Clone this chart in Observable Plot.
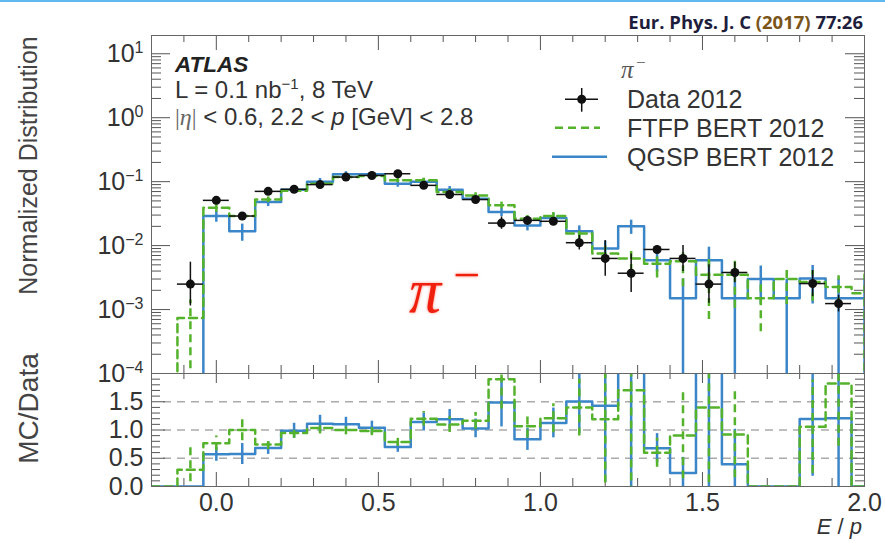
<!DOCTYPE html>
<html><head><meta charset="utf-8">
<script src="https://cdn.jsdelivr.net/npm/d3@7"></script>
<script src="https://cdn.jsdelivr.net/npm/@observablehq/plot@0.6"></script>
<style>
body{margin:0;background:#fff;}
#wrap{position:relative;width:885px;height:543px;overflow:hidden;font-family:"Liberation Sans",Arial,sans-serif;}
#topline{position:absolute;left:0;top:0;width:885px;height:2px;background:#62b8f0;}
#upper,#lower,#over{position:absolute;left:0;}
#upper{top:0;} #lower{top:373px;} #over{top:0;pointer-events:none;}
svg{overflow:visible;}
</style></head><body>
<div id="wrap">
<div id="topline"></div>
<div id="upper"></div>
<div id="lower"></div>
<svg id="over" width="885" height="543" font-family="Liberation Sans, Arial, sans-serif">
  <text x="863" y="29" text-anchor="end" font-family="Open Sans, sans-serif" font-weight="bold" font-size="18.5" fill="#1e1e3c">Eur. Phys. J. C <tspan fill="#7a5418">(2017)</tspan> 77:26</text>
  <text transform="translate(37,165.5) rotate(-90)" text-anchor="middle" font-size="25" fill="#444">Normalized Distribution</text>
  <text transform="translate(38,408.5) rotate(-90)" text-anchor="middle" font-size="28" fill="#444">MC/Data</text>
  <text x="175" y="71.5" font-size="22.5" font-weight="bold" font-style="italic" fill="#222">ATLAS</text>
  <text x="175" y="98" font-size="24" fill="#333">L = 0.1 nb<tspan dy="-9" font-size="15">−1</tspan><tspan dy="9">, 8 TeV</tspan></text>
  <text x="175" y="125" font-size="24" fill="#333"><tspan font-family="Liberation Serif, serif" fill="#666">|</tspan><tspan font-family="Liberation Serif, serif" font-style="italic" fill="#666">η</tspan><tspan font-family="Liberation Serif, serif" fill="#666">|</tspan> &lt; 0.6, 2.2 &lt; <tspan font-style="italic">p</tspan> [GeV] &lt; 2.8</text>
  <text x="621" y="78" font-family="Liberation Serif, serif" font-style="italic" font-size="25" fill="#555">π</text>
  <text x="636" y="68" font-family="Liberation Serif, serif" font-size="17" fill="#555">−</text>
  <line x1="565" x2="598" y1="99.3" y2="99.3" stroke="#111" stroke-width="1.5"/>
  <line x1="581.7" x2="581.7" y1="88" y2="111.7" stroke="#111" stroke-width="1.5"/>
  <circle cx="581.7" cy="99.3" r="4.5" fill="#111"/>
  <text x="627" y="108" font-size="25" fill="#333">Data 2012</text>
  <line x1="555" x2="600" y1="127.7" y2="127.7" stroke="#54b22b" stroke-width="2.5" stroke-dasharray="8,5"/>
  <text x="627" y="137" font-size="25" fill="#333">FTFP BERT 2012</text>
  <line x1="552" x2="607" y1="156.7" y2="156.7" stroke="#3b86c9" stroke-width="2.5"/>
  <text x="627" y="166" font-size="25" fill="#333">QGSP BERT 2012</text>
  <g style="filter: drop-shadow(0 0 1.5px rgba(255,70,40,0.6))">
    <text x="409" y="312" font-family="Liberation Serif, serif" font-style="italic" font-size="64" fill="#f0200f">π</text>
    <text x="453" y="291" font-family="Liberation Serif, serif" font-size="48" fill="#f0200f">−</text>
  </g>
  <text x="862" y="534" text-anchor="end" font-size="22" fill="#333"><tspan font-style="italic">E</tspan> / <tspan font-style="italic">p</tspan></text>
</svg>
</div>
<script>
// ---------- data ----------
const binCenters = [-0.16,-0.08,0.00,0.08,0.16,0.24,0.32,0.40,0.48,0.56,0.64,0.72,0.80,0.88,0.96,1.04,1.12,1.20,1.28,1.36,1.44,1.52,1.60,1.68,1.76,1.84,1.92,2.00];
const binWidth = 0.08;
const dataValues   = [0, 0.0025, 0.051, 0.029, 0.0705, 0.076, 0.090, 0.118, 0.125, 0.133, 0.0875, 0.063, 0.0525, 0.0225, 0.0248, 0.024, 0.0111, 0.0063, 0.0037, 0.0087, 0.0063, 0.0025, 0.0038, 0, 0, 0.00255, 0.00124, 0];
const dataErrFactor= [1, 2.2, 1.08, 1.12, 1.07, 1.06, 1.06, 1.05, 1.05, 1.06, 1.07, 1.08, 1.08, 1.25, 1.15, 1.15, 1.3, 1.9, 2.0, 1.15, 1.6, 2.0, 1.45, 1, 1, 1.6, 1.35, 1];
const ftfpValues   = [0, 0.00074, 0.039, 0.029, 0.0525, 0.072, 0.093, 0.118, 0.123, 0.105, 0.105, 0.069, 0.061, 0.0427, 0.0264, 0.029, 0.0155, 0.0075, 0.0063, 0.0052, 0.0057, 0.0035, 0.0035, 0.0015, 0.003, 0.0027, 0.00226, 0.0018];
const ftfpRelErr   = [0, 0.9, 0.15, 0.15, 0.1, 0.08, 0.08, 0.07, 0.07, 0.08, 0.08, 0.1, 0.1, 0.12, 0.12, 0.15, 0.2, 0.3, 0.4, 0.4, 0.6, 0.8, 0.7, 0.7, 0.6, 0.5, 0.5, 1.0];
const qgspValues   = [0, 0, 0.029, 0.0167, 0.048, 0.075, 0.10, 0.13, 0.13, 0.093, 0.10, 0.075, 0.054, 0.0335, 0.0207, 0.027, 0.0167, 0.009, 0.020, 0.0059, 0.0015, 0.0059, 0.0015, 0.003, 0.0015, 0.00305, 0.0015, 0.0015];
const qgspRelErr   = [0, 0, 0.2, 0.3, 0.15, 0.12, 0.12, 0.1, 0.1, 0.12, 0.12, 0.12, 0.14, 0.15, 0.18, 0.18, 0.22, 0.3, 0.25, 0.35, 1.0, 0.6, 1.5, 0.6, 1.0, 0.6, 1.0, 1.0];
const xTickValues = [0, 0.5, 1.0, 1.5, 2.0];
const logTickValues = [1e-4, 1e-3, 1e-2, 1e-1, 1, 10];
const ratioTickValues = [0, 0.5, 1.0, 1.5];
const ratioRefLines = [0.5, 1.0, 1.5];

// ---------- styling ----------
const BLUE = "#3b86c9", GREEN = "#54b22b", TICK = "#555";
const W = 885, ML = 151, MR = 21;
const IW = W - ML - MR;
const UH = 373, UMT = 35, UIH = UH - UMT;
const LH = 170, LMB = 57, LIH = LH - LMB;
const FLOOR = 1e-6;
const xDomain = [-0.2, 2.0];

const rows = binCenters.map((c, i) => ({
  c, lo: c - binWidth / 2, hi: c + binWidth / 2,
  data: dataValues[i], df: dataErrFactor[i],
  ftfp: ftfpValues[i], fe: ftfpRelErr[i],
  qgsp: qgspValues[i], qe: qgspRelErr[i]
}));
rows.forEach(r => {
  r.rq = r.data > 0 ? r.qgsp / r.data : 0;
  r.rf = r.data > 0 ? r.ftfp / r.data : 0;
  const de = r.df - 1;
  r.rqe = (r.data > 0 && r.qgsp > 0) ? r.rq * Math.hypot(r.qe, de) : 0;
  r.rfe = (r.data > 0 && r.ftfp > 0) ? r.rf * Math.hypot(r.fe, de) : 0;
});
const last = rows[rows.length - 1];
const steps = [...rows, {...last, lo: last.hi}];
const pos = v => v > 0 ? v : FLOOR;

const logAll = d3.scaleLog().domain([1e-4, 19.3]).ticks();
const logMinor = logAll.filter(v => !logTickValues.some(t => Math.abs(t - v) / t < 1e-6));
const xMinor = d3.range(-2, 21).map(k => k / 10).filter(v => !xTickValues.some(t => Math.abs(t - v) < 1e-9));
const rMinor = d3.range(0, 21).map(k => k / 10).filter(v => !ratioTickValues.some(t => Math.abs(t - v) < 1e-9));

const expFmt = d => { const e = Math.round(Math.log10(d)); return "10^" + (e < 0 ? "−" + (-e) : e); };

const frameTicksY = (major, minor, maj, min) => [
  Plot.tickY(major, {y: d => d, stroke: TICK, insetRight: IW - maj}),
  Plot.tickY(minor, {y: d => d, stroke: TICK, insetRight: IW - min}),
  Plot.tickY(major, {y: d => d, stroke: TICK, insetLeft: IW - maj}),
  Plot.tickY(minor, {y: d => d, stroke: TICK, insetLeft: IW - min})
];
const frameTicksX = (ih, botMaj, botMin, topMaj, topMin) => [
  Plot.tickX(xTickValues, {x: d => d, stroke: TICK, insetTop: ih - botMaj}),
  Plot.tickX(xMinor, {x: d => d, stroke: TICK, insetTop: ih - botMin}),
  Plot.tickX(xTickValues, {x: d => d, stroke: TICK, insetBottom: ih - topMaj}),
  Plot.tickX(xMinor, {x: d => d, stroke: TICK, insetBottom: ih - topMin})
];

const commonStyle = {fontFamily: "Liberation Sans, Arial, sans-serif", fontSize: "25px", color: "#333", background: "transparent", overflow: "visible"};

const upper = Plot.plot({
  width: W, height: UH, marginTop: UMT, marginBottom: 0, marginLeft: ML, marginRight: MR,
  style: commonStyle,
  x: {domain: xDomain, axis: null},
  y: {type: "log", domain: [1e-4, 19.3], label: null},
  marks: [
    ...frameTicksY(logTickValues, logMinor, 19, 10),
    ...frameTicksX(UIH, 13, 8, 15, 7),
    Plot.axisY(logTickValues, {tickSize: 0, tickPadding: 8, tickFormat: expFmt, label: null}),
    // QGSP (blue)
    Plot.line(steps, {x: "lo", y: d => pos(d.qgsp), curve: "step-after", stroke: BLUE, strokeWidth: 2.5, clip: true}),
    Plot.ruleX(rows.filter(d => d.qgsp > 0), {x: "c", y1: d => pos(d.qgsp * (1 - d.qe)), y2: d => d.qgsp * (1 + d.qe), stroke: BLUE, strokeWidth: 2.5, clip: true}),
    // FTFP (green dashed)
    Plot.line(steps, {x: "lo", y: d => pos(d.ftfp), curve: "step-after", stroke: GREEN, strokeWidth: 2.5, strokeDasharray: "8,5", clip: true}),
    Plot.ruleX(rows.filter(d => d.ftfp > 0), {x: "c", y1: d => pos(d.ftfp * (1 - d.fe)), y2: d => d.ftfp * (1 + d.fe), stroke: GREEN, strokeWidth: 2.5, strokeDasharray: "8,5", clip: true}),
    // Data
    Plot.ruleX(rows.filter(d => d.data > 0), {x: "c", y1: d => d.data / d.df, y2: d => d.data * d.df, stroke: "#111", strokeWidth: 1.5, clip: true}),
    Plot.ruleY(rows.filter(d => d.data > 0), {y: "data", x1: "lo", x2: "hi", stroke: "#111", strokeWidth: 1.5, clip: true}),
    Plot.dot(rows.filter(d => d.data > 0), {x: "c", y: "data", r: 4.5, fill: "#111", stroke: "none", clip: true}),
    Plot.frame({stroke: "#666"})
  ]
});
d3.select(upper).selectAll('g[aria-label="y-axis tick label"] text').each(function () {
  const parts = this.textContent.split("^");
  if (parts.length === 2) {
    const t = d3.select(this);
    t.text(null);
    t.append("tspan").text(parts[0]);
    t.append("tspan").attr("dy", "-9").attr("font-size", "16px").text(parts[1]);
  }
});
document.getElementById("upper").appendChild(upper);

const lower = Plot.plot({
  width: W, height: LH, marginTop: 0, marginBottom: LMB, marginLeft: ML, marginRight: MR,
  style: commonStyle,
  x: {domain: xDomain, label: null},
  y: {domain: [0, 2.0], label: null},
  marks: [
    Plot.ruleY(ratioRefLines, {y: d => d, stroke: "#aaa", strokeWidth: 1.5, strokeDasharray: "8,6", insetLeft: 12}),
    ...frameTicksY(ratioTickValues, rMinor, 14, 9),
    ...frameTicksX(LIH, 14, 8, 10, 6),
    Plot.axisY(ratioTickValues, {tickSize: 0, tickPadding: 8, tickFormat: d3.format(".1f"), label: null}),
    Plot.axisX(xTickValues, {tickSize: 0, tickPadding: 7, tickFormat: d3.format(".1f"), label: null}),
    Plot.line(steps, {x: "lo", y: "rq", curve: "step-after", stroke: BLUE, strokeWidth: 2.5, clip: true}),
    Plot.ruleX(rows.filter(d => d.rqe > 0), {x: "c", y1: d => d.rq - d.rqe, y2: d => d.rq + d.rqe, stroke: BLUE, strokeWidth: 2.5, clip: true}),
    Plot.line(steps, {x: "lo", y: "rf", curve: "step-after", stroke: GREEN, strokeWidth: 2.5, strokeDasharray: "8,5", clip: true}),
    Plot.ruleX(rows.filter(d => d.rfe > 0), {x: "c", y1: d => d.rf - d.rfe, y2: d => d.rf + d.rfe, stroke: GREEN, strokeWidth: 2.5, strokeDasharray: "8,5", clip: true}),
    Plot.frame({stroke: "#666"})
  ]
});
document.getElementById("lower").appendChild(lower);
</script>
</body></html>
